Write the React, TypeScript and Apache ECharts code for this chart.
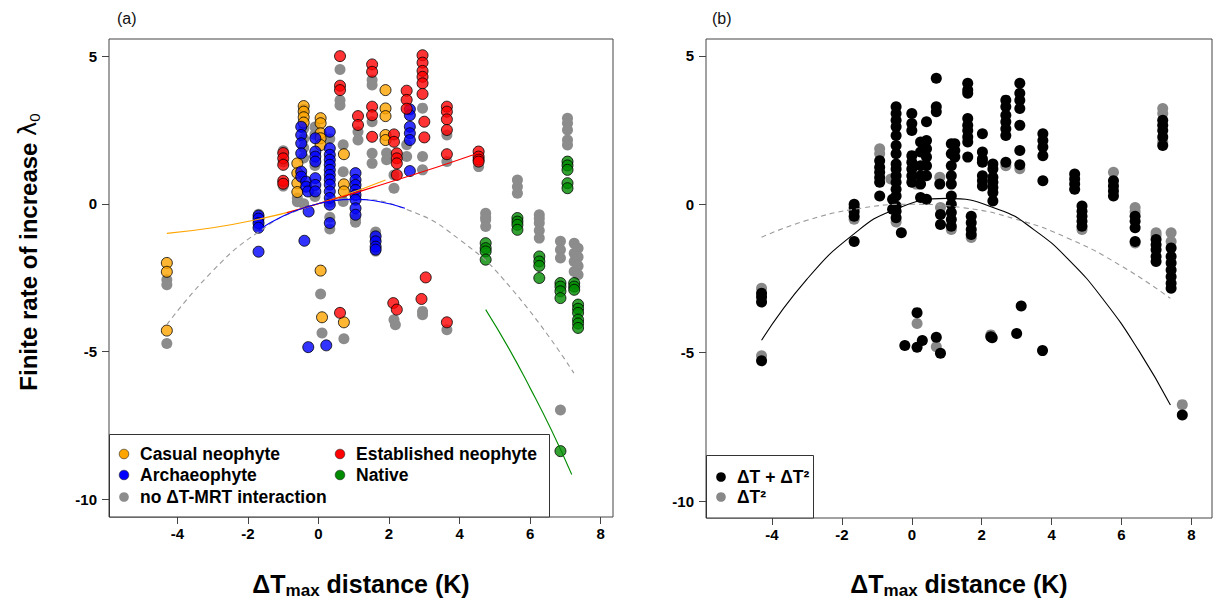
import React, { useEffect, useRef } from "react";
import * as echarts from "echarts";

// ---------- Panel (a) data: [ΔTmax distance (K), finite rate of increase] ----------
const casualNeophyte: [number, number][] = [
  [-4.3, -2.0], [-4.3, -2.3], [-4.3, -4.29],
  [-0.42, 3.31], [-0.42, 3.12], [-0.42, 2.93], [-0.42, 2.75],
  [-0.6, 1.37], [-0.6, 1.04], [-0.6, 0.7], [-0.6, 0.4],
  [0.06, 2.9], [0.06, 2.73], [0.06, 2.39], [0.06, 2.22], [0.06, 1.99],
  [0.06, -2.26], [0.1, -3.84],
  [0.72, 1.68], [0.72, 0.66], [0.72, 0.42], [0.72, -4.01],
  [1.9, 3.85], [1.9, 3.23], [1.9, 2.97], [1.9, 2.33], [1.9, 2.16],
];
const archaeophyte: [number, number][] = [
  [-1.7, -0.4], [-1.7, -0.5], [-1.7, -0.65], [-1.7, -0.81], [-1.7, -1.62],
  [-0.49, 2.61], [-0.49, 2.33], [-0.49, 2.05], [-0.49, 1.71], [-0.49, 1.09], [-0.49, 0.92],
  [-0.35, 0.75], [-0.35, 0.58], [-0.3, 0.42], [-0.28, -0.26], [-0.4, -1.25],
  [-0.09, 2.22], [-0.09, 1.77], [-0.09, 1.6], [-0.09, 1.43], [-0.09, 0.87], [-0.09, 0.64], [-0.09, 0.42],
  [0.32, 2.44], [0.32, 1.88], [0.32, 1.66], [0.32, 1.49], [0.32, 1.32], [0.32, 1.15], [0.32, 0.98],
  [0.32, 0.82], [0.32, 0.65], [0.32, 0.42], [0.32, 0.2], [0.32, -0.03], [0.32, -0.65],
  [1.05, 1.04], [1.05, 0.81], [1.05, 0.64], [1.05, 0.47], [1.05, 0.3], [1.05, 0.14], [1.05, -0.15], [1.05, -0.37],
  [1.62, -1.1], [1.62, -1.27], [1.62, -1.45], [1.62, -1.55],
  [2.59, 3.2], [2.59, 3.0], [2.59, 2.61], [2.59, 2.39], [2.59, 2.16], [2.59, 1.11],
  [-0.29, -4.85], [0.22, -4.79],
];
const establishedNeophyte: [number, number][] = [
  [-1.0, 1.72], [-1.0, 1.54], [-1.0, 1.32], [-1.0, 0.78], [-1.0, 0.68],
  [0.61, 5.0], [0.61, 4.0], [0.61, 3.85], [0.61, -3.69],
  [1.12, 2.97], [1.12, 2.67],
  [1.52, 4.72], [1.52, 4.47], [1.52, 3.29], [1.52, 3.0], [1.52, 2.27],
  [2.14, 2.35], [2.14, 2.1], [2.22, 1.71], [2.22, 1.54], [2.22, 1.37], [2.22, 0.98],
  [2.12, -3.36], [2.22, -3.58],
  [2.5, 3.83], [2.5, 3.52], [2.5, 3.22],
  [2.95, 5.03], [2.95, 4.78], [2.95, 4.5], [2.95, 4.3], [2.95, 4.08], [2.95, 3.72],
  [3.0, 2.78], [3.0, 2.25],
  [3.04, -2.49], [2.92, -3.22],
  [3.64, 3.29], [3.64, 3.12], [3.64, 2.86], [3.64, 2.5], [3.64, 1.68], [3.64, -4.01],
  [4.54, 1.77], [4.54, 1.6], [4.54, 1.5], [4.54, 1.43],
];
const native: [number, number][] = [
  [4.74, -1.33], [4.74, -1.5], [4.74, -1.61], [4.74, -1.89],
  [5.64, -0.48], [5.64, -0.6], [5.64, -0.71], [5.64, -0.88],
  [6.26, -1.78], [6.26, -1.95], [6.26, -2.1], [6.26, -2.51],
  [6.86, -2.68], [6.86, -2.8], [6.86, -2.96], [6.86, -3.19], [6.86, -8.37],
  [7.06, 1.43], [7.06, 1.3], [7.06, 1.15], [7.06, 0.7], [7.06, 0.53],
  [7.25, -2.68], [7.25, -2.8], [7.25, -2.91],
  [7.36, -3.41], [7.36, -3.55], [7.36, -3.69], [7.36, -3.92], [7.36, -4.05], [7.36, -4.2],
];
const noInteraction: [number, number][] = [
  [-4.3, -2.57], [-4.3, -2.74], [-4.3, -4.73],
  [-1.7, -0.35], [-1.7, -0.58], [-1.7, -0.75],
  [-1.0, 1.8], [-1.0, 1.42], [-1.0, 0.6],
  [-0.6, 0.07], [-0.6, 0.2],
  [-0.42, 3.2], [-0.42, 2.55], [-0.42, 2.2], [-0.42, 1.9], [-0.42, 1.55], [-0.42, 0.0],
  [-0.1, 2.6], [-0.1, 2.35], [-0.1, 1.3], [-0.1, 0.25],
  [0.06, -3.05], [0.1, -4.37],
  [0.32, 2.2], [0.32, 0.05], [0.32, -0.45], [0.32, -0.85],
  [0.61, 4.55], [0.61, 3.51], [0.61, 3.34],
  [0.7, 1.09], [0.7, 0.08], [0.7, 2.0],
  [0.72, -4.57],
  [1.05, -0.5], [1.05, -0.62],
  [1.12, 2.44], [1.12, 2.16],
  [1.52, 4.19], [1.52, 4.02], [1.52, 2.78], [1.52, 1.71], [1.52, 1.37],
  [1.62, -0.95], [1.62, -1.2], [1.62, -1.6],
  [1.93, 1.72], [1.93, 1.49],
  [2.14, 0.98], [2.14, 0.53],
  [2.14, -3.92], [2.18, -4.09],
  [2.5, 2.0], [2.5, 1.6],
  [2.95, 3.24], [2.95, 1.6], [2.95, 1.15],
  [2.95, -3.64], [2.95, -3.75],
  [3.64, 2.33], [3.64, 1.43], [3.64, -4.26],
  [4.54, 1.26],
  [4.74, -0.32], [4.74, -0.45], [4.74, -0.54], [4.74, -0.77],
  [5.64, 0.81], [5.64, 0.58], [5.64, 0.36],
  [6.26, -0.37], [6.26, -0.5], [6.26, -0.65], [6.26, -0.9], [6.26, -1.16],
  [6.86, -1.27], [6.86, -1.55], [6.86, -1.83], [6.86, -6.98],
  [7.06, 2.9], [7.06, 2.73], [7.06, 2.5], [7.06, 2.16], [7.06, 1.99],
  [7.25, -1.33], [7.25, -1.67], [7.25, -1.95], [7.25, -2.29],
  [7.36, -1.5], [7.36, -1.8], [7.36, -2.1], [7.36, -2.4],
];

// fitted curves of panel (a)
const casualFit: [number, number][] = [[-4.3, -1.0], [-3.0, -0.81], [-1.7, -0.52], [-0.5, -0.17], [0.7, 0.28], [1.9, 0.81]];
const establishedFit: [number, number][] = [[-0.9, -0.3], [0.5, 0.18], [1.76, 0.64], [3.37, 1.25], [4.54, 1.72]];
const archaeoFit: [number, number][] = [[-1.7, -0.88], [-1.0, -0.41], [-0.3, -0.09], [0.4, 0.1], [1.0, 0.15], [1.7, 0.08], [2.45, -0.15]];
const nativeFit: [number, number][] = [[4.74, -3.58], [5.4, -4.9], [6.02, -6.28], [6.6, -7.65], [7.18, -9.16]];
const noInteractionFit: [number, number][] = [[-4.3, -4.09], [-3.0, -2.27], [-1.7, -0.95], [-0.5, -0.19], [1.0, 0.15], [2.5, -0.19], [4.0, -1.21], [5.5, -2.91], [7.24, -5.73]];

// ---------- Panel (b) data ----------
const bothTerms: [number, number][] = [
  [-4.3, -3.0], [-4.3, -3.12], [-4.3, -3.29], [-4.3, -5.27],
  [-1.65, 0.0], [-1.65, -0.12], [-1.65, -0.25], [-1.65, -0.4], [-1.65, -1.25],
  [-0.92, 1.47], [-0.92, 1.25], [-0.92, 1.08], [-0.92, 0.9], [-0.92, 0.74], [-0.92, 0.28],
  [-0.45, 3.29], [-0.45, 3.06], [-0.45, 2.83], [-0.45, 2.61], [-0.45, 2.32], [-0.45, 1.98], [-0.45, 1.7],
  [-0.45, 1.36], [-0.45, 1.19], [-0.45, 0.96], [-0.45, 0.74], [-0.45, 0.51], [-0.45, 0.28], [-0.45, -0.06],
  [-0.45, -0.23], [-0.45, -0.45],
  [-0.55, 0.17], [-0.55, -0.17], [-0.3, -0.96],
  [0.0, 3.06], [0.0, 2.72], [0.0, 2.49], [0.0, 1.64], [0.0, 1.42], [0.0, 1.19], [0.0, 0.96], [0.0, 0.74],
  [0.25, 2.1], [0.25, 1.76], [0.25, 1.3], [0.25, 0.96], [0.25, 0.68], [0.25, 0.23],
  [0.42, 2.78], [0.42, 2.15], [0.42, 1.87], [0.42, 1.59], [0.42, 1.3], [0.42, 0.96], [0.42, 0.17],
  [0.7, 4.25], [0.7, 3.29], [0.7, 3.12],
  [0.8, 0.68], [0.82, -0.34], [0.82, -0.68],
  [1.13, 2.04], [1.13, 1.7], [1.13, 1.3], [1.13, 0.96], [1.13, 0.68], [1.13, 0.28], [1.13, 0.0],
  [1.13, -0.28], [1.13, -0.51], [1.13, -0.74],
  [1.23, 2.04], [1.23, 1.81], [1.23, 1.59],
  [1.6, 4.08], [1.6, 3.85], [1.6, 3.74], [1.6, 2.89], [1.6, 2.66], [1.6, 2.49], [1.6, 2.27], [1.6, 2.1], [1.6, 1.59],
  [1.7, -0.4], [1.7, -0.62], [1.7, -0.85], [1.7, -1.02],
  [2.02, 2.38], [2.02, 1.76], [2.02, 1.53], [2.02, 1.42], [2.02, 0.96], [2.02, 0.79], [2.02, 0.62],
  [2.32, 1.36], [2.32, 1.19], [2.32, 0.91], [2.32, 0.74], [2.32, 0.57], [2.32, 0.4], [2.32, 0.11],
  [2.69, 3.51], [2.69, 3.29], [2.69, 3.0], [2.69, 2.78], [2.69, 2.55], [2.69, 2.32], [2.69, 1.42],
  [3.09, 4.08], [3.09, 3.74], [3.09, 3.51], [3.09, 3.23], [3.09, 2.66], [3.09, 1.81], [3.09, 1.33],
  [3.75, 2.38], [3.75, 2.15], [3.75, 1.93], [3.75, 1.64], [3.75, 0.79],
  [4.66, 1.02], [4.66, 0.85], [4.66, 0.68], [4.66, 0.51],
  [4.87, -0.06], [4.87, -0.23], [4.87, -0.4], [4.87, -0.57], [4.87, -0.74],
  [5.77, 0.79], [5.77, 0.62], [5.77, 0.45], [5.77, 0.28],
  [6.39, -0.4], [6.39, -0.57], [6.39, -0.79], [6.39, -1.25],
  [6.99, -1.19], [6.99, -1.36], [6.99, -1.53], [6.99, -1.76], [6.99, -1.93],
  [7.18, 2.83], [7.18, 2.66], [7.18, 2.49], [7.18, 2.27], [7.18, 1.98],
  [7.42, -1.47], [7.42, -1.76], [7.42, -1.98], [7.42, -2.21], [7.42, -2.44], [7.42, -2.66], [7.42, -2.83],
  [-0.2, -4.76], [0.15, -3.65], [0.15, -4.82], [0.3, -4.59], [0.7, -4.48], [0.82, -5.02],
  [2.26, -4.46], [2.3, -4.5], [3.0, -4.35], [3.13, -3.43], [3.74, -4.93], [7.74, -7.1],
];
const squaredOnly: [number, number][] = [
  [-4.3, -2.83], [-4.3, -5.1],
  [-1.65, -0.5],
  [-0.92, 1.87], [-0.92, 1.7],
  [-0.6, 0.85], [-0.45, -0.6],
  [0.13, 0.68], [0.8, 0.91], [0.82, -0.11],
  [1.13, -0.85], [1.7, -1.12],
  [0.15, -4.02], [0.7, -4.8], [2.26, -4.4],
  [3.09, 1.2], [2.69, 1.3],
  [4.87, -0.85], [5.77, 1.08],
  [6.39, -0.11], [6.39, -0.25], [6.39, -1.3],
  [6.99, -0.96], [6.99, -1.05],
  [7.18, 3.23], [7.18, 3.06], [7.18, 2.1],
  [7.42, -0.96], [7.42, -1.25],
  [7.74, -6.75],
];
const bothTermsFit: [number, number][] = [[-4.3, -4.58], [-3.0, -2.52], [-1.7, -1.04], [-0.5, -0.18], [1.0, 0.2], [2.5, -0.18], [3.5, -0.86], [4.5, -1.88], [5.5, -3.24], [6.5, -4.94], [7.4, -6.76]];
const squaredOnlyFit: [number, number][] = [[-4.3, -1.11], [-3.0, -0.54], [-1.5, -0.14], [0.0, 0.0], [1.5, -0.12], [3.0, -0.51], [4.5, -1.16], [6.0, -2.08], [7.4, -3.17]];

// ---------- axes ----------
const xTicks = [-4, -2, 0, 2, 4, 6, 8];
const yTicks = [-10, -5, 0, 5];

const FONT = "'Liberation Sans', Arial, Helvetica, sans-serif";

function xAxisCfg(gridIndex: number, min: number, max: number) {
  return {
    type: "value", gridIndex, min, max,
    axisLine: { show: false, onZero: false },
    splitLine: { show: false },
    axisTick: { show: true, customValues: xTicks, length: 7, lineStyle: { color: "#444", width: 1 } },
    axisLabel: { customValues: xTicks, fontSize: 15, fontWeight: "bold", color: "#000", fontFamily: FONT, margin: 9 },
  };
}
function yAxisCfg(gridIndex: number, min: number, max: number) {
  return {
    type: "value", gridIndex, min, max,
    axisLine: { show: false, onZero: false },
    splitLine: { show: false },
    axisTick: { show: true, customValues: yTicks, length: 7, lineStyle: { color: "#444", width: 1 } },
    axisLabel: { customValues: yTicks, fontSize: 15, fontWeight: "bold", color: "#000", fontFamily: FONT, margin: 12 },
  };
}

function pts(name: string, data: [number, number][], idx: number, color: string, border: boolean, z: number) {
  return {
    type: "scatter", name, data, xAxisIndex: idx, yAxisIndex: idx,
    symbol: "circle", symbolSize: 11, z, silent: true,
    itemStyle: border ? { color, borderColor: "#000", borderWidth: 1 } : { color, opacity: 1 },
    emphasis: { disabled: true },
  };
}
function fit(name: string, data: [number, number][], idx: number, color: string, dashed: boolean) {
  return {
    type: "line", name, data, xAxisIndex: idx, yAxisIndex: idx,
    smooth: 0.5, showSymbol: false, symbol: "none", z: 5, silent: true,
    lineStyle: { color, width: 1.1, type: dashed ? [5, 4] : "solid" },
    emphasis: { disabled: true },
  };
}

const ORANGE = "#FFA500";
const BLUE = "#0000FF";
const RED = "#FF0000";
const GREEN = "#008B00";
const GREY = "#8C8C8C";

function legendRow(x: number, y: number, color: string, label: string, stroke: boolean) {
  return [
    { type: "circle", shape: { cx: x, cy: y, r: 4.8 }, style: { fill: color, stroke: stroke ? "#222" : color, lineWidth: stroke ? 0.6 : 0 }, z: 101 },
    { type: "text", x: x + 16, y, style: { text: label, font: `bold 17.5px ${FONT}`, fill: "#000", verticalAlign: "middle" }, z: 101 },
  ];
}

const option = {
  animation: false,
  backgroundColor: "#fff",
  grid: [
    { left: 109, top: 39, width: 504, height: 478, show: true, borderColor: "#444", borderWidth: 1, backgroundColor: "transparent" },
    { left: 706, top: 39, width: 506, height: 479, show: true, borderColor: "#444", borderWidth: 1, backgroundColor: "transparent" },
  ],
  xAxis: [xAxisCfg(0, -5.94, 8.35), xAxisCfg(1, -5.89, 8.59)],
  yAxis: [yAxisCfg(0, -10.6, 5.58), yAxisCfg(1, -10.57, 5.57)],
  series: [
    pts("no ΔT-MRT interaction", noInteraction, 0, GREY, false, 2),
    pts("Casual neophyte", casualNeophyte, 0, ORANGE, true, 3),
    pts("Archaeophyte", archaeophyte, 0, BLUE, true, 3),
    pts("Established neophyte", establishedNeophyte, 0, RED, true, 3),
    pts("Native", native, 0, GREEN, true, 3),
    fit("fit no interaction", noInteractionFit, 0, "#999", true),
    fit("fit casual", casualFit, 0, ORANGE, false),
    fit("fit established", establishedFit, 0, RED, false),
    fit("fit archaeophyte", archaeoFit, 0, BLUE, false),
    fit("fit native", nativeFit, 0, GREEN, false),
    pts("ΔT²", squaredOnly, 1, "#888", false, 2),
    pts("ΔT + ΔT²", bothTerms, 1, "#000", false, 3),
    fit("fit ΔT²", squaredOnlyFit, 1, "#999", true),
    fit("fit ΔT + ΔT²", bothTermsFit, 1, "#000", false),
  ],
  graphic: [
    { type: "text", x: 117, y: 18, style: { text: "(a)", font: `16px ${FONT}`, fill: "#111", verticalAlign: "middle" } },
    { type: "text", x: 712, y: 18, style: { text: "(b)", font: `16px ${FONT}`, fill: "#111", verticalAlign: "middle" } },
    {
      type: "text", x: 28, y: 252, rotation: Math.PI / 2,
      style: {
        text: "{a|Finite rate of increase }{l|λ}{s|0}",
        align: "center", verticalAlign: "middle", fill: "#000",
        rich: {
          a: { fontSize: 24, fontWeight: "bold", fontFamily: FONT, lineHeight: 28 },
          l: { fontSize: 24, fontFamily: "'DejaVu Sans', sans-serif", lineHeight: 28 },
          s: { fontSize: 15, fontFamily: FONT, lineHeight: 8, verticalAlign: "bottom" },
        },
      },
    },
    ...[361, 959].map((cx) => ({
      type: "text", x: cx, y: 584,
      style: {
        text: "{a|ΔT}{m|max}{a| distance (K)}",
        align: "center", verticalAlign: "middle", fill: "#000",
        rich: {
          a: { fontSize: 25, fontWeight: "bold", fontFamily: FONT, lineHeight: 30 },
          m: { fontSize: 17, fontWeight: "bold", fontFamily: FONT, lineHeight: 10, verticalAlign: "bottom" },
        },
      },
    })),
    // legend (a)
    { type: "rect", shape: { x: 109.5, y: 434.5, width: 440, height: 82.5 }, style: { fill: "#fff", stroke: "#333", lineWidth: 1 }, z: 100 },
    ...legendRow(124, 454, ORANGE, "Casual neophyte", true),
    ...legendRow(124, 475, BLUE, "Archaeophyte", true),
    ...legendRow(124, 497, GREY, "no ΔT-MRT interaction", false),
    ...legendRow(340, 454, RED, "Established neophyte", true),
    ...legendRow(340, 475, GREEN, "Native", true),
    // legend (b)
    { type: "rect", shape: { x: 706.5, y: 455.5, width: 107, height: 62.5 }, style: { fill: "#fff", stroke: "#333", lineWidth: 1 }, z: 100 },
    ...legendRow(721, 477, "#000", "ΔT + ΔT²", false),
    ...legendRow(721, 497, "#888", "ΔT²", false),
  ],
};

export default function App() {
  const ref = useRef<HTMLDivElement>(null);
  useEffect(() => {
    document.body.style.margin = "0";
    const chart = echarts.init(ref.current!, null, { renderer: "svg" });
    chart.setOption(option as any);
    return () => chart.dispose();
  }, []);
  return <div ref={ref} style={{ position: "fixed", left: 0, top: 0, width: 1224, height: 604 }} />;
}
